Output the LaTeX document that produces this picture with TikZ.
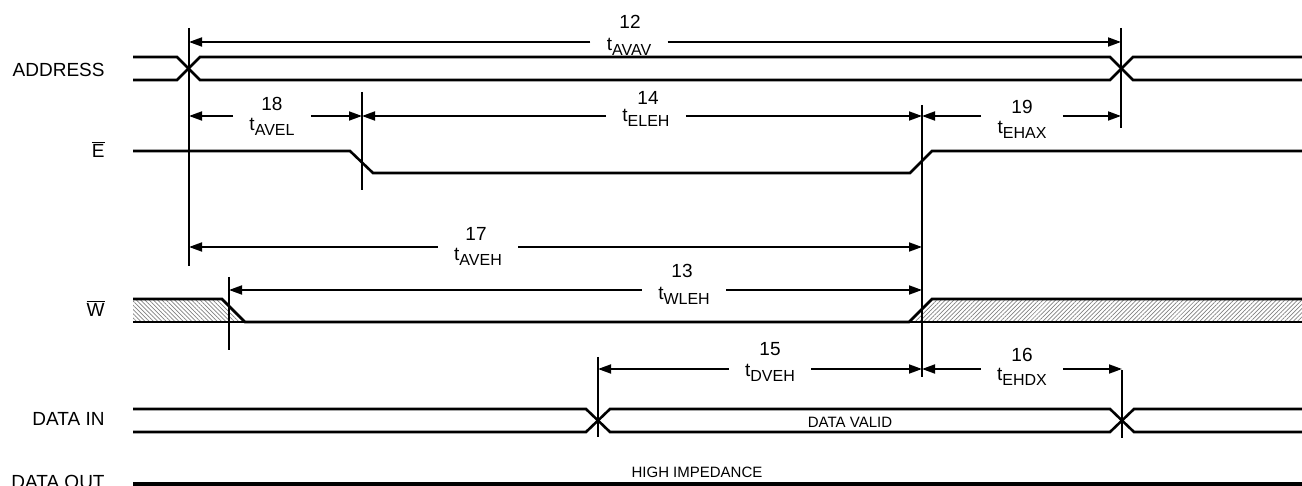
\documentclass[tikz,border=0pt]{standalone}
\usepackage{fontspec}
\setmainfont{Liberation Sans}
\usetikzlibrary{arrows.meta,patterns.meta}

\newcommand{\tsub}[1]{t\raisebox{-2.2pt}{\fontsize{8}{9}\selectfont #1}}

\begin{document}
\begin{tikzpicture}[x=0.5pt,y=-0.5pt,
	sig/.style={line width=1.3pt},
	vline/.style={line width=0.9pt},
	dim/.style={line width=0.9pt,-{Triangle[length=6.5pt,width=4.5pt]}},
	tlab/.style={inner xsep=8pt,inner ysep=0pt,font=\fontsize{9.5}{10}\selectfont},
	num/.style={inner sep=0pt,font=\fontsize{9.5}{10}\selectfont},
	sname/.style={anchor=base east,inner sep=0pt,font=\fontsize{9.5}{10}\selectfont},
	small/.style={inner sep=0pt,font=\fontsize{7.5}{8}\selectfont}]
			\useasboundingbox (0,0) rectangle (1302,486);
			% signal names
			\node [sname] (address) at (105,77) {ADDRESS};
			\node [sname] (ebar) at (105,158) {\(\overline{\mbox{E}}\)};
			\node [sname] (wbar) at (105,317) {\(\overline{\mbox{W}}\)};
			\node [sname] (datain) at (105,425) {DATA IN};
			\node [sname] (dataout) at (105,488) {DATA OUT};
			% hatched don't care regions of W
			\fill [pattern={Lines[angle=-45,distance=1.5pt,line width=0.35pt]}, pattern color=gray] (133,299) -- (222,299) -- (245,322) -- (133,322) -- cycle;
			\fill [pattern={Lines[angle=45,distance=1.5pt,line width=0.35pt]}, pattern color=gray] (909,322) -- (932,299) -- (1302,299) -- (1302,322) -- cycle;
			% waveforms
			\draw [sig] (133,57) -- (177,57) -- (200,80) -- (1110,80) -- (1133,57) -- (1302,57);
			\draw [sig] (133,80) -- (177,80) -- (200,57) -- (1110,57) -- (1133,80) -- (1302,80);
			\draw [sig] (133,151) -- (350,151) -- (373,173) -- (910,173) -- (932,151) -- (1302,151);
			\draw [sig] (133,299) -- (222,299) -- (245,322) -- (909,322) -- (932,299) -- (1302,299);
			\draw [sig] (133,322) -- (1302,322);
			\draw [sig] (133,409) -- (586,409) -- (610,432) -- (1110,432) -- (1134,409) -- (1302,409);
			\draw [sig] (133,432) -- (586,432) -- (610,409) -- (1110,409) -- (1134,432) -- (1302,432);
			\draw [line width=1.6pt] (133,484) -- (1302,484);
			\node [small] (valid) at (850,422) {DATA VALID};
			\node [small] (highz) at (697,472) {HIGH IMPEDANCE};
			% reference lines
			\draw [vline] (189,28) -- (189,266);
			\draw [vline] (1121,28) -- (1121,128);
			\draw [vline] (362,92) -- (362,190);
			\draw [vline] (922,105) -- (922,377);
			\draw [vline] (229,277) -- (229,350);
			\draw [vline] (598,357) -- (598,437);
			\draw [vline] (1122,370) -- (1122,438);
			% timing parameters
			\coordinate (a12l) at (189,42); \coordinate (a12r) at (1121,42);
			\coordinate (a18l) at (189,116); \coordinate (a18r) at (362,116);
			\coordinate (a14l) at (362,116); \coordinate (a14r) at (922,116);
			\coordinate (a19l) at (922,116); \coordinate (a19r) at (1121,116);
			\coordinate (a17l) at (189,247); \coordinate (a17r) at (922,247);
			\coordinate (a13l) at (229,290); \coordinate (a13r) at (922,290);
			\coordinate (a15l) at (598,369); \coordinate (a15r) at (922,369);
			\coordinate (a16l) at (922,369); \coordinate (a16r) at (1122,369);
			\node [tlab] (t12) at (629,47) {\tsub{AVAV}};
			\node [num] (n12) at (630,22) {12};
			\node [tlab] (t18) at (272,127) {\tsub{AVEL}};
			\node [num] (n18) at (272,104) {18};
			\node [tlab] (t14) at (646,118) {\tsub{ELEH}};
			\node [num] (n14) at (648,98) {14};
			\node [tlab] (t19) at (1022,130) {\tsub{EHAX}};
			\node [num] (n19) at (1022,107) {19};
			\node [tlab] (t17) at (478,257) {\tsub{AVEH}};
			\node [num] (n17) at (476,234) {17};
			\node [tlab] (t13) at (684,296) {\tsub{WLEH}};
			\node [num] (n13) at (682,271) {13};
			\node [tlab] (t15) at (770,373) {\tsub{DVEH}};
			\node [num] (n15) at (770,349) {15};
			\node [tlab] (t16) at (1022,377) {\tsub{EHDX}};
			\node [num] (n16) at (1022,355) {16};
			\foreach \p in {12,18,14,19,17,13,15,16} {
				\draw [dim] (t\p.west |- a\p l) -- (a\p l);
				\draw [dim] (t\p.east |- a\p r) -- (a\p r);
			}
\end{tikzpicture}
\end{document}
